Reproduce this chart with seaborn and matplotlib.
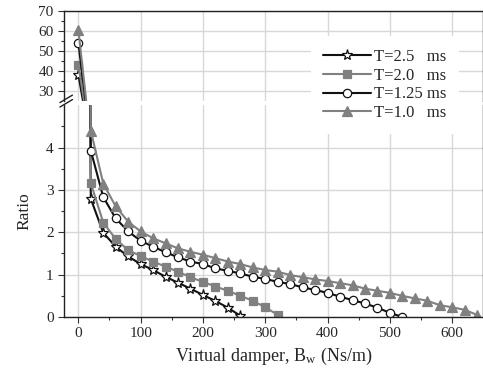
import numpy as np
import pandas as pd
import seaborn as sns
import matplotlib.pyplot as plt
from matplotlib.lines import Line2D

# data (Ratio vs. virtual damper B_w)
x_25 = [0, 20, 40, 60, 80, 100, 120, 140, 160, 180, 200, 220, 240, 260]
y_25 = [38.3, 2.79, 1.99, 1.66, 1.43, 1.25, 1.11, 0.95, 0.81, 0.67, 0.52, 0.38, 0.22, 0.03]

x_20 = [0, 20, 40, 60, 80, 100, 120, 140, 160, 180, 200, 220, 240, 260, 280, 300, 320]
y_20 = [43.3, 3.16, 2.23, 1.84, 1.58, 1.44, 1.31, 1.19, 1.07, 0.94, 0.83, 0.72, 0.62, 0.50,
        0.385, 0.23, 0.05]

x_125 = [0, 20, 40, 60, 80, 100, 120, 140, 160, 180, 200, 220, 240, 260, 280, 300, 320,
         340, 360, 380, 400, 420, 440, 460, 480, 500, 520]
y_125 = [54.2, 3.93, 2.83, 2.33, 2.02, 1.80, 1.66, 1.53, 1.41, 1.31, 1.25, 1.15, 1.09, 1.03,
         0.95, 0.90, 0.83, 0.78, 0.70, 0.64, 0.57, 0.48, 0.40, 0.32, 0.22, 0.10, 0.0]

x_10 = [0, 20, 40, 60, 80, 100, 120, 140, 160, 180, 200, 220, 240, 260, 280, 300, 320,
        340, 360, 380, 400, 420, 440, 460, 480, 500, 520, 540, 560, 580, 600, 620, 640]
y_10 = [60.8, 4.4, 3.15, 2.61, 2.25, 2.02, 1.86, 1.74, 1.62, 1.54, 1.47, 1.39, 1.31, 1.25,
        1.17, 1.11, 1.07, 0.99, 0.94, 0.89, 0.85, 0.80, 0.75, 0.67, 0.62, 0.57, 0.50, 0.44,
        0.385, 0.28, 0.23, 0.17, 0.05]

labels = ["T=2.5   ms", "T=2.0   ms", "T=1.25 ms", "T=1.0   ms"]

sns.set_style("ticks")
plt.rcParams['font.family'] = ['Liberation Serif', 'DejaVu Serif']
plt.rcParams['mathtext.fontset'] = 'stix'

fig = plt.figure(figsize=(4.83, 3.73), dpi=100)
ax_lo = fig.add_axes([0.1325, 0.150, 0.867, 0.568])
ax_hi = fig.add_axes([0.1325, 0.729, 0.867, 0.241])

grey = "#808080"
black = "#111111"
series = [
    (x_25, y_25, black, "*", 8, "white", black),
    (x_20, y_20, grey, "s", 5.3, grey, grey),
    (x_125, y_125, black, "o", 6, "white", black),
    (x_10, y_10, grey, "^", 6.5, grey, grey),
]

for ax in (ax_lo, ax_hi):
    for (xs, ys, c, m, ms, fc, ec), lab in zip(series, labels):
        df = pd.DataFrame({"B": xs, "R": ys})
        sns.lineplot(data=df, x="B", y="R", ax=ax, color=c, marker=m, markersize=ms,
                     markerfacecolor=fc, markeredgecolor=ec, markeredgewidth=0.9,
                     linewidth=1.5, label=lab if ax is ax_lo else None, legend=False)
    ax.set_xlim(-23, 649)
    ax.set_xticks(range(0, 700, 100))
    ax.set_xticks(range(50, 650, 100), minor=True)
    ax.grid(True, which="major", color="#d8d8d8", linewidth=1.0)
    ax.set_axisbelow(True)
    ax.tick_params(which="major", length=4, width=0.8, labelsize=11, color="#333333")
    ax.tick_params(which="minor", length=2.5, width=0.8, color="#333333")
    for s in ax.spines.values():
        s.set_linewidth(1.0)
        s.set_color("#222222")

ax_lo.set_ylim(0, 5)
ax_lo.set_yticks([0, 1, 2, 3, 4])
ax_lo.set_yticks([0.5, 1.5, 2.5, 3.5, 4.5], minor=True)
ax_lo.spines["top"].set_visible(False)
ax_lo.set_xlabel("Virtual damper, B$_\\mathregular{w}$ (Ns/m)", fontsize=13, labelpad=4)
ax_lo.set_ylabel("Ratio", fontsize=12.5, labelpad=10)

ax_hi.set_ylim(25, 70)
ax_hi.set_yticks([30, 40, 50, 60, 70])
ax_hi.set_yticks([35, 45, 55, 65], minor=True)
ax_hi.spines["bottom"].set_visible(False)
ax_hi.tick_params(axis="x", which="both", bottom=False, labelbottom=False)
ax_hi.set_xlabel("")
ax_hi.set_ylabel("")

# axis break marks on the left spine
for dy in (0.0, 0.012):
    fig.add_artist(Line2D([0.124, 0.150], [0.713 + dy, 0.733 + dy], color="#222222",
                          linewidth=1.0, transform=fig.transFigure))

handles, labs = ax_lo.get_legend_handles_labels()
leg = fig.legend(handles, labs, loc="upper left", bbox_to_anchor=(0.626, 0.925),
                 fontsize=12, frameon=True, facecolor="white", edgecolor="none",
                 framealpha=1, handlelength=2.85, handletextpad=0.2, labelspacing=0.17,
                 borderpad=0.75, fancybox=False)

fig.savefig("out.png", dpi=100)
